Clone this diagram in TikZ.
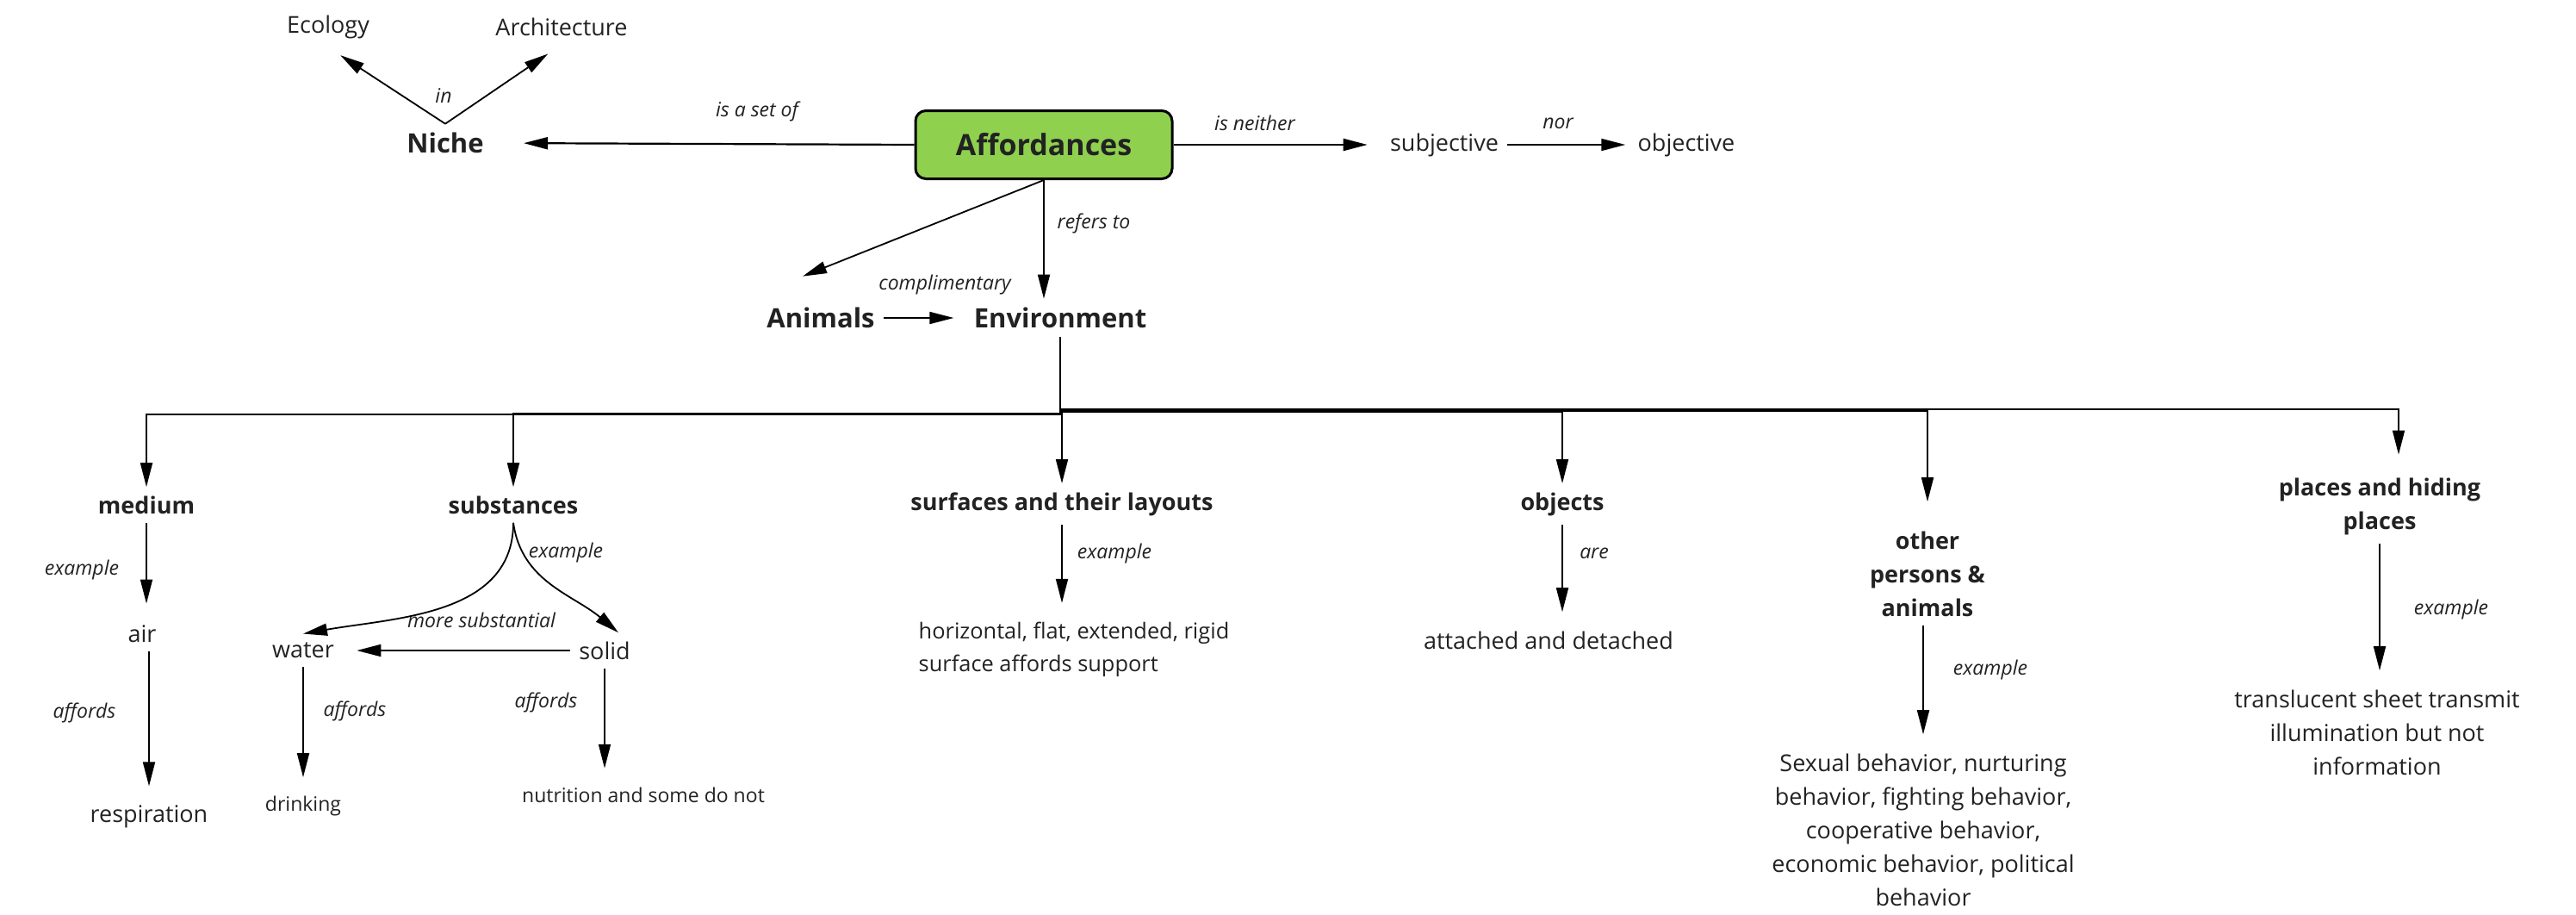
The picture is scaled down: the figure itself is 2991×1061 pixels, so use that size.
\documentclass[tikz,border=0pt]{standalone}
\usepackage{fontspec}
\setmainfont{Open Sans}
\usetikzlibrary{arrows.meta}
\definecolor{leafgreen}{HTML}{8FD14F}
\definecolor{ink}{HTML}{222222}
\tikzset{
  hub/.style={draw,line width=1.5pt,rounded corners=6pt,fill=leafgreen,text=ink,
    minimum width=149pt,minimum height=39.5pt,font=\bfseries\fontsize{17}{20}\selectfont},
  key/.style={text=ink,inner sep=5pt,font=\bfseries\fontsize{15.5}{19}\selectfont},
  topic/.style={text=ink,inner sep=5pt,align=center,font=\bfseries\fontsize{13.5}{19.5}\selectfont},
  leaf/.style={text=ink,inner sep=5pt,align=center,font=\fontsize{13.5}{19.5}\selectfont},
  small/.style={text=ink,inner sep=5pt,font=\fontsize{11.5}{14}\selectfont},
  tag/.style={text=ink,inner sep=1pt,font=\itshape\fontsize{11.5}{14}\selectfont},
  link/.style={draw,line width=0.9pt,-{Triangle[length=14pt,width=7pt]}}
}

\begin{document}
\begin{tikzpicture}[x=0.5pt,y=-0.5pt]
  \useasboundingbox (0,0) rectangle (2991,1061);

  \node[hub] (aff) at (1212,168) {Affordances};
  \node[key] (niche) at (517,166) {Niche};
  \node[leaf] (eco) at (381,31) {Ecology};
  \node[leaf] (arch) at (652,31) {Architecture};
  \node[leaf] (subj) at (1677,168) {subjective};
  \node[leaf] (obj) at (1958,168) {objective};
  \node[key] (animals) at (953,369) {Animals};
  \node[key] (env) at (1231,369) {Environment};
  \coordinate (animalsin) at ([xshift=-10.5pt,yshift=13pt]animals.north);

  \node[topic] (medium) at (170,586) {medium};
  \node[topic] (subst) at (596,586) {substances};
  \node[topic] (surf) at (1233,585) {surfaces and their layouts};
  \node[topic] (objs) at (1814,585) {objects};
  \node[topic] (others) at (2238,666) {other\\persons \&\\animals};
  \node[topic] (places) at (2763,588) {places and hiding\\places};

  \node[leaf] (air) at (165,736) {air};
  \node[leaf] (resp) at (173,948) {respiration};
  \node[leaf] (water) at (352,755) {water};
  \node[leaf] (solid) at (702,755) {solid};
  \node[small] (drink) at (352,936) {drinking};
  \node[small] (nutr) at (747,923) {nutrition and some do not};
  \node[leaf,align=left,font=\fontsize{12.7}{19}\selectfont] (horiz) at (1247,754) {horizontal, flat, extended, rigid\\surface affords support};
  \node[leaf] (attached) at (1798,743) {attached and detached};
  \node[leaf] (behav) at (2233,963) {Sexual behavior, nurturing\\behavior, fighting behavior,\\cooperative behavior,\\economic behavior, political\\behavior};
  \node[leaf] (transl) at (2760,850) {translucent sheet transmit\\illumination but not\\information};

  \node[tag] (tin) at (515,111) {in};
  \node[tag] (tset) at (879,129) {is a set of};
  \node[tag] (tneither) at (1457,143) {is neither};
  \node[tag] (tnor) at (1809,143) {nor};
  \node[tag] (trefers) at (1270,259) {refers to};
  \node[tag] (tcompl) at (1097,331) {complimentary};
  \node[tag] (tmedium) at (95,662) {example};
  \node[tag] (tair) at (98,827) {affords};
  \node[tag] (tsubst) at (657,641) {example};
  \node[tag] (tmore) at (559,720) {more substantial};
  \node[tag] (twater) at (412,825) {affords};
  \node[tag] (tsolid) at (634,815) {affords};
  \node[tag] (tsurf) at (1294,642) {example};
  \node[tag] (tobjs) at (1851,642) {are};
  \node[tag] (tothers) at (2311,777) {example};
  \node[tag] (tplaces) at (2846,707) {example};

  \draw[link,line width=1.1pt,shorten >=18pt] (aff.west) -- (niche.east);
  \draw[link,line width=1.1pt,shorten >=8pt] (aff.east) -- (subj.west);
  \draw[link,shorten >=2pt] (subj.east) -- (obj.west);
  \draw[link,shorten >=8.5pt] (niche.north) -- (eco.south);
  \draw[link,shorten >=9.5pt] (niche.north) -- (arch.south);
  \draw[link] (aff.south) -- (animalsin);
  \draw[link] (aff.south) -- (aff.south |- env.north);
  \draw[link,shorten >=6.5pt] (animals.east) -- (env.west);

  \draw[link] (env.south) -- ++(0,90) -| (medium);
  \draw[link] (env.south) -- ++(0,89) -| (subst);
  \draw[link] (env.south) -- ++(0,88) -| (surf);
  \draw[link] (env.south) -- ++(0,87) -| (objs);
  \draw[link,shorten >=12pt] (env.south) -- ++(0,86) -| (others);
  \draw[link,shorten >=8.5pt] (env.south) -- ++(0,84) -| ([xshift=11pt]places.north);

  \draw[link,shorten >=7.5pt] (medium.south) -- (medium.south |- air.north);
  \draw[link,shorten >=6pt] (air.south -| resp.north) -- (resp.north);
  \draw[link] (subst.south) to[out=-90,in=10] (water.north);
  \draw[link] (subst.south) to[out=-82,in=140] ([xshift=8pt]solid.north);
  \draw[link,shorten >=8pt] (solid.west) -- (water.east);
  \draw[link,shorten >=6pt] (water.south) -- (drink.north);
  \draw[link,shorten >=6pt] (solid.south) -- (solid.south |- nutr.north);
  \draw[link,shorten >=6pt] (surf.south) -- (surf.south |- horiz.north);
  \draw[link,shorten >=6pt] (objs.south) -- (objs.south |- attached.north);
  \draw[link,shorten >=6pt] (others.south -| behav.north) -- (behav.north);
  \draw[link,shorten >=6pt] (places.south) -- (places.south |- transl.north);
\end{tikzpicture}
\end{document}
